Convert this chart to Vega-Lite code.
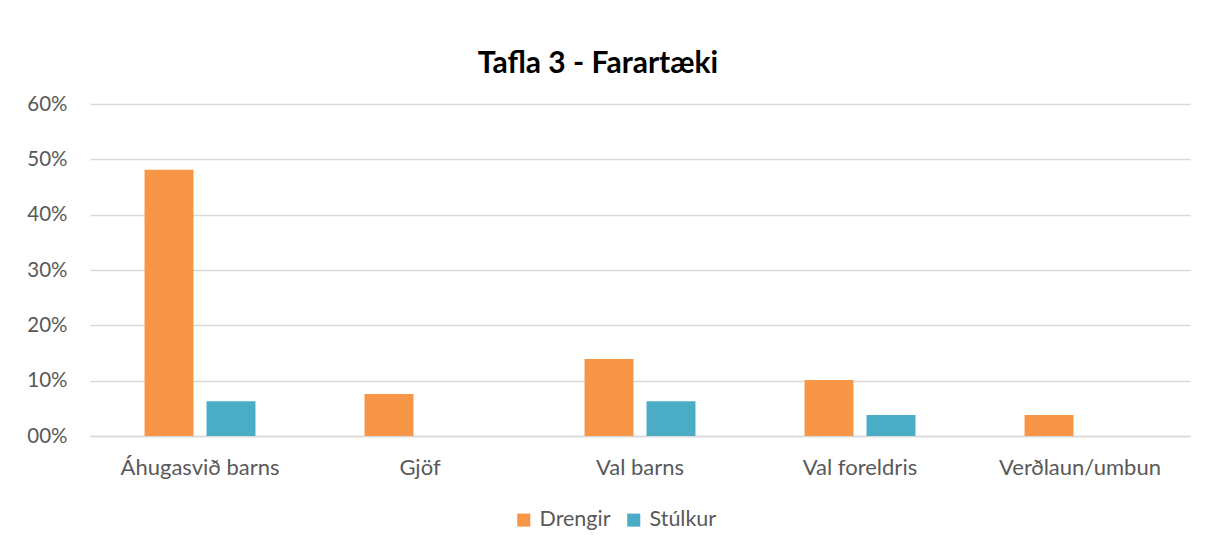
{
  "$schema": "https://vega.github.io/schema/vega-lite/v6.json",
  "autosize": {"type": "none"},
  "width": 1100,
  "height": 332,
  "padding": {"left": 90, "top": 104, "right": 23, "bottom": 119},
  "background": "white",
  "title": {
    "text": "Tafla 3 - Farartæki",
    "font": "Lato",
    "fontSize": 30,
    "fontWeight": "bold",
    "color": "#000000",
    "anchor": "middle",
    "dx": -42,
    "dy": 10,
    "baseline": "alphabetic",
    "offset": 1
  },
  "data": {
    "values": [
      {"flokkur": "Áhugasvið barns", "hopur": "Drengir", "hlutfall": 0.481},
      {"flokkur": "Áhugasvið barns", "hopur": "Stúlkur", "hlutfall": 0.063},
      {"flokkur": "Gjöf", "hopur": "Drengir", "hlutfall": 0.076},
      {"flokkur": "Gjöf", "hopur": "Stúlkur", "hlutfall": 0},
      {"flokkur": "Val barns", "hopur": "Drengir", "hlutfall": 0.139},
      {"flokkur": "Val barns", "hopur": "Stúlkur", "hlutfall": 0.063},
      {"flokkur": "Val foreldris", "hopur": "Drengir", "hlutfall": 0.101},
      {"flokkur": "Val foreldris", "hopur": "Stúlkur", "hlutfall": 0.038},
      {"flokkur": "Verðlaun/umbun", "hopur": "Drengir", "hlutfall": 0.038},
      {"flokkur": "Verðlaun/umbun", "hopur": "Stúlkur", "hlutfall": 0}
    ]
  },
  "mark": {"type": "bar"},
  "encoding": {
    "x": {
      "field": "flokkur",
      "type": "nominal",
      "sort": null,
      "title": null,
      "scale": {"paddingInner": 0, "paddingOuter": 0},
      "axis": {
        "labelAngle": 0,
        "labelFont": "Lato",
        "labelFontSize": 22,
        "labelColor": "#595959",
        "labelBaseline": "alphabetic",
        "labelPadding": 38,
        "ticks": false,
        "tickSize": 0,
        "domainColor": "#d9d9d9",
        "domainWidth": 1.5,
        "grid": false
      }
    },
    "xOffset": {
      "field": "hopur",
      "type": "nominal",
      "scale": {"paddingInner": 0.21, "paddingOuter": 0.88}
    },
    "y": {
      "field": "hlutfall",
      "type": "quantitative",
      "title": null,
      "scale": {"domain": [0, 0.6], "nice": false},
      "axis": {
        "values": [0, 0.1, 0.2, 0.3, 0.4, 0.5, 0.6],
        "labelExpr": "datum.value == 0 ? '00%' : format(datum.value, '.0%')",
        "labelFont": "Lato",
        "labelFontSize": 20.5,
        "labelColor": "#595959",
        "labelPadding": 23,
        "ticks": false,
        "tickSize": 0,
        "domain": false,
        "gridColor": "#d9d9d9",
        "gridWidth": 1.5
      }
    },
    "color": {
      "field": "hopur",
      "type": "nominal",
      "title": null,
      "scale": {"domain": ["Drengir", "Stúlkur"], "range": ["#F79646", "#4BACC6"]},
      "legend": {
        "orient": "none",
        "direction": "horizontal",
        "legendX": 423,
        "legendY": 405,
        "symbolType": "square",
        "symbolSize": 170,
        "symbolStrokeWidth": 0,
        "labelFont": "Lato",
        "labelFontSize": 21.5,
        "labelColor": "#595959",
        "columnPadding": 12,
        "labelOffset": 5
      }
    }
  },
  "config": {
    "view": {"stroke": null}
  }
}
